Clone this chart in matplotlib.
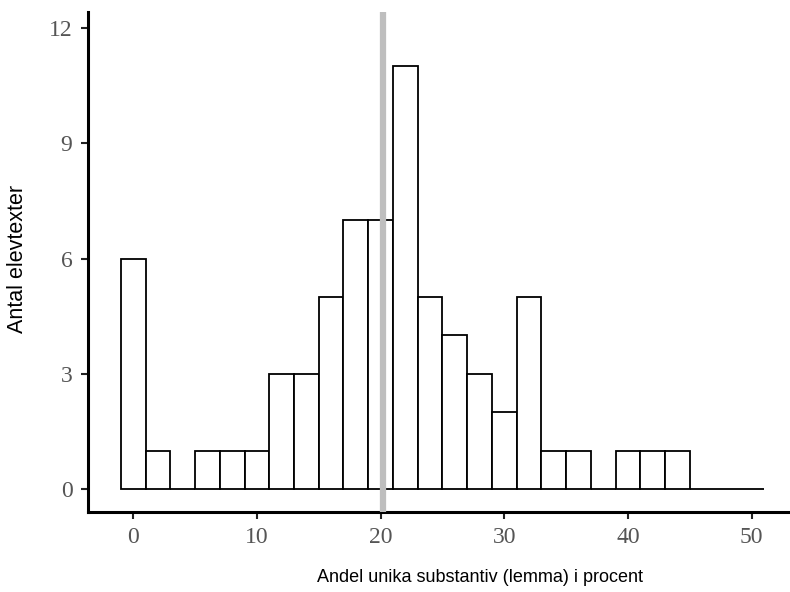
import matplotlib.pyplot as plt

# bin centres (percent) and number of student texts per bin
bin_centres = [0, 2, 4, 6, 8, 10, 12, 14, 16, 18, 20, 22, 24, 26, 28, 30, 32, 34, 36, 38, 40, 42, 44, 46, 48, 50]
counts = [6, 1, 0, 1, 1, 1, 3, 3, 5, 7, 7, 11, 5, 4, 3, 2, 5, 1, 1, 0, 1, 1, 1, 0, 0, 0]
mean_value = 20.2
x_ticks = [0, 10, 20, 30, 40, 50]
y_ticks = [0, 3, 6, 9, 12]

fig = plt.figure(figsize=(7.9, 5.92), dpi=100)
ax = fig.add_axes([0.111, 0.135, 0.889, 0.845])

ax.bar(bin_centres, counts, width=2, color='white', edgecolor='black', linewidth=1.3, zorder=2)
ax.axvline(mean_value, color='#bebebe', linewidth=4.5, zorder=3)

ax.set_xlim(-3.68, 53.1)
ax.set_ylim(-0.6, 12.42)
ax.set_xticks(x_ticks)
ax.set_yticks(y_ticks)

for side in ['top', 'right']:
    ax.spines[side].set_visible(False)
for side in ['left', 'bottom']:
    ax.spines[side].set_linewidth(2.2)

ax.tick_params(axis='both', length=5, width=1.5, color='#222222',
               labelcolor='#555555', labelsize=17, pad=6)
for lab in ax.get_xticklabels() + ax.get_yticklabels():
    lab.set_fontfamily('Liberation Serif')

fig.text(0.607, 0.024, 'Andel unika substantiv (lemma) i procent', ha='center', va='center',
         fontsize=13, family='Liberation Sans')
fig.text(0.022, 0.563, 'Antal elevtexter', ha='center', va='center', rotation=90,
         fontsize=15.5, family='Liberation Sans')

fig.savefig('out.png', dpi=100)
